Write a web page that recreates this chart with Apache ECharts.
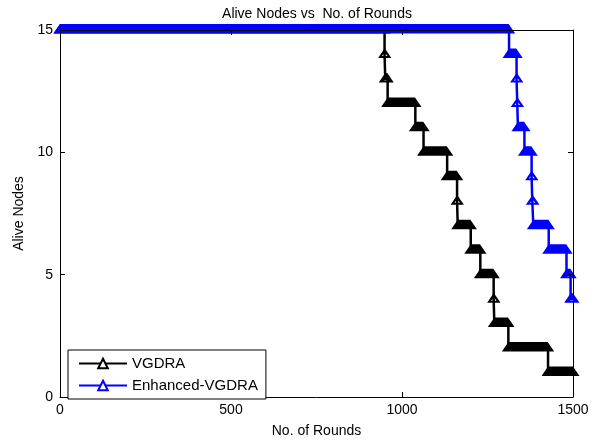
<!DOCTYPE html>
<html>
<head>
<meta charset="utf-8">
<script src="https://cdn.jsdelivr.net/npm/echarts@6/dist/echarts.min.js"></script>
<style>
html,body{margin:0;padding:0;background:#fff;}
#chart{width:596px;height:443px;}
</style>
</head>
<body>
<div id="chart"></div>
<script>
// Data: round at which each alive-node level begins
const xTickStep = 500;
const yTickStep = 5;
const lastRound = 1500;

const vgdraRound = [0, 949, 951, 958, 1039, 1063, 1132, 1161, 1163, 1201, 1229, 1268, 1270, 1311, 1427];
const vgdraAlive = [15, 14, 13, 12, 11, 10, 9, 8, 7, 6, 5, 4, 3, 2, 1];

const enhRound = [0, 1313, 1335, 1337, 1339, 1358, 1379, 1381, 1384, 1429, 1481, 1493];
const enhAlive = [15, 14, 13, 12, 11, 10, 9, 8, 7, 6, 5, 4];

const FONT = 'Liberation Sans, Arial, Helvetica, sans-serif';

function lineData(rounds, alive) {
  const d = rounds.map((r, i) => [r, alive[i]]);
  d.push([lastRound, alive[alive.length - 1]]);
  return d;
}
function bandData(rounds, alive) {
  return rounds.map((r, i) => [r, i < rounds.length - 1 ? rounds[i + 1] - 1 : lastRound, alive[i]]);
}

// marker (triangle) geometry in pixels
const MK = { A: 6.5, T: -6, B: 3.5, a: 3, ht: -2, hb: 1.5 };

function bandRender(color) {
  return function (params, api) {
    const p0 = api.coord([api.value(0), api.value(2)]);
    const p1 = api.coord([api.value(1), api.value(2)]);
    const x0 = p0[0], x1 = p1[0], cy = p0[1];
    const children = [{
      type: 'polygon',
      shape: { points: [[x0 - MK.A, cy + MK.B], [x0, cy + MK.T], [x1, cy + MK.T], [x1 + MK.A, cy + MK.B]] },
      style: { fill: color }
    }];
    const d = x1 - x0;
    const w = 2 * MK.a - d;
    if (w > 0) {
      const f = w / (2 * MK.a);
      children.push({
        type: 'polygon',
        shape: { points: [[x1 - MK.a, cy + MK.hb], [x0 + MK.a, cy + MK.hb], [(x0 + x1) / 2, cy + MK.hb - (MK.hb - MK.ht) * f]] },
        style: { fill: '#fff' }
      });
    }
    return { type: 'group', children: children };
  };
}

const chart = echarts.init(document.getElementById('chart'), null, { renderer: 'canvas' });

function tick() {
  return { show: true, inside: true, length: 5, lineStyle: { color: '#000', width: 1 } };
}
function aline() {
  return { show: true, onZero: false, lineStyle: { color: '#000', width: 1 } };
}

chart.setOption({
  animation: false,
  backgroundColor: '#fff',
  title: {
    text: 'Alive Nodes vs  No. of Rounds',
    left: 317,
    top: 7,
    padding: 0,
    textAlign: 'center',
    textStyle: { fontFamily: FONT, fontSize: 14, fontWeight: 'normal', color: '#000' }
  },
  grid: { left: 60, right: 23, top: 30, bottom: 41, containLabel: false },
  legend: {
    orient: 'vertical',
    left: 68,
    top: 350,
    data: ['VGDRA', 'Enhanced-VGDRA'],
    backgroundColor: '#fff',
    borderColor: '#000',
    borderWidth: 1,
    borderRadius: 0,
    padding: [6, 8, 6, 10],
    itemWidth: 48,
    itemHeight: 12,
    itemGap: 7,
    textStyle: { fontFamily: FONT, fontSize: 15, color: '#000' }
  },
  xAxis: [
    {
      type: 'value', position: 'bottom', min: 0, max: 1500, interval: xTickStep,
      name: 'No. of Rounds', nameLocation: 'middle', nameGap: 27,
      nameTextStyle: { fontFamily: FONT, fontSize: 14, color: '#000' },
      axisLine: aline(), axisTick: tick(), splitLine: { show: false },
      axisLabel: { fontFamily: FONT, fontSize: 14, color: '#000', margin: 6,
        formatter: function (v) { return String(v); } }
    },
    {
      type: 'value', position: 'top', min: 0, max: 1500, interval: xTickStep, z: 10,
      axisLine: aline(), axisTick: tick(), splitLine: { show: false },
      axisLabel: { show: false }
    }
  ],
  yAxis: [
    {
      type: 'value', position: 'left', min: 0, max: 15, interval: yTickStep,
      name: 'Alive Nodes', nameLocation: 'middle', nameGap: 26,
      nameTextStyle: { fontFamily: FONT, fontSize: 14, color: '#000' },
      axisLine: aline(), axisTick: tick(), splitLine: { show: false },
      axisLabel: { fontFamily: FONT, fontSize: 14, color: '#000', margin: 7,
        formatter: function (v) { return String(v); } }
    },
    {
      type: 'value', position: 'right', min: 0, max: 15, interval: yTickStep, z: 10,
      axisLine: aline(), axisTick: tick(), splitLine: { show: false },
      axisLabel: { show: false }
    }
  ],
  series: [
    {
      name: 'VGDRA markers', type: 'custom', z: 2, clip: false,
      xAxisIndex: 0, yAxisIndex: 0,
      encode: { x: [0, 1], y: 2 },
      renderItem: bandRender('#000'),
      data: bandData(vgdraRound, vgdraAlive)
    },
    {
      name: 'VGDRA', type: 'line', z: 3, step: 'end',
      xAxisIndex: 0, yAxisIndex: 0,
      symbol: 'emptyTriangle', showSymbol: false,
      itemStyle: { color: '#000' },
      lineStyle: { color: '#000', width: 2.5 },
      data: lineData(vgdraRound, vgdraAlive)
    },
    {
      name: 'Enhanced-VGDRA markers', type: 'custom', z: 4, clip: false,
      xAxisIndex: 0, yAxisIndex: 0,
      encode: { x: [0, 1], y: 2 },
      renderItem: bandRender('#0000ff'),
      data: bandData(enhRound, enhAlive)
    },
    {
      name: 'Enhanced-VGDRA', type: 'line', z: 5, step: 'end',
      xAxisIndex: 0, yAxisIndex: 0,
      symbol: 'emptyTriangle', showSymbol: false,
      itemStyle: { color: '#0000ff' },
      lineStyle: { color: '#0000ff', width: 2.5 },
      data: lineData(enhRound, enhAlive)
    }
  ]
});
</script>
</body>
</html>
